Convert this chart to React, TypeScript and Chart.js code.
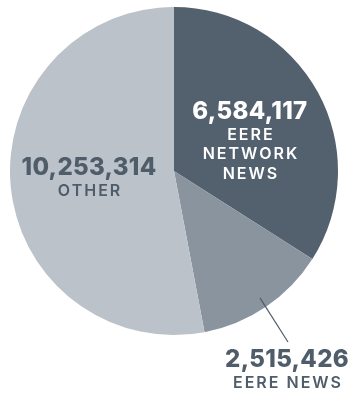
import React, { useEffect, useRef } from "react";
import { Chart, registerables } from "chart.js";

Chart.register(...registerables);

const categories = ["EERE NETWORK NEWS", "EERE NEWS", "OTHER"];
const values = [6584117, 2515426, 10253314];
const valueLabels = ["6,584,117", "2,515,426", "10,253,314"];
const nameLines = [["EERE", "NETWORK", "NEWS"], ["EERE NEWS"], ["OTHER"]];
const colors = ["#53616e", "#8a949f", "#bcc2ca"];

const FONT = "'Inter', 'Open Sans', sans-serif";

const labelPlugin = {
  id: "sliceLabels",
  afterDraw(chart: any) {
    const meta = chart.getDatasetMeta(0);
    const arc = meta.data[0];
    if (!arc) return;
    const cx = arc.x;
    const cy = arc.y;
    const r = arc.outerRadius;
    const ctx = chart.ctx;
    const place = [
      { fx: 0.463, fy: -0.36, color: "#ffffff" },
      { fx: 0.689, fy: 1.152, color: "#4f5c69" },
      { fx: -0.518, fy: -0.018, color: "#4f5c69" },
    ];
    ctx.save();
    ctx.strokeStyle = "#4f5c69";
    ctx.lineWidth = 1.2;
    ctx.beginPath();
    ctx.moveTo(cx + r * 0.524, cy + r * 0.774);
    ctx.lineTo(cx + r * 0.695, cy + r * 1.043);
    ctx.stroke();

    ctx.textAlign = "center";
    ctx.textBaseline = "middle";
    place.forEach((p, i) => {
      const x = cx + r * p.fx;
      const y = cy + r * p.fy;
      ctx.fillStyle = p.color;
      ctx.font = `800 24px ${FONT}`;
      (ctx as any).letterSpacing = "0.3px";
      ctx.fillText(valueLabels[i], x, y);
      ctx.font = `600 16px ${FONT}`;
      (ctx as any).letterSpacing = "2px";
      nameLines[i].forEach((line, j) => {
        ctx.fillText(line, x + 1, y + 23 + j * 19.5);
      });
    });
    ctx.restore();
  },
};

export default function App() {
  const ref = useRef<HTMLCanvasElement>(null);
  useEffect(() => {
    if (!ref.current) return;
    const chart = new Chart(ref.current, {
      type: "pie",
      data: {
        labels: categories,
        datasets: [
          {
            data: values,
            backgroundColor: colors,
            borderWidth: 0,
          },
        ],
      },
      options: {
        responsive: false,
        animation: false,
        layout: { padding: { left: 10, right: 11, top: 7, bottom: 61 } },
        plugins: {
          legend: { display: false },
          tooltip: { enabled: false },
        },
      },
      plugins: [labelPlugin],
    });
    return () => chart.destroy();
  }, []);
  return (
    <div style={{ position: "absolute", left: 0, top: 0, width: 349, height: 396, background: "#fff" }}>
      <canvas ref={ref} width={349} height={396} style={{ display: "block" }} />
    </div>
  );
}
